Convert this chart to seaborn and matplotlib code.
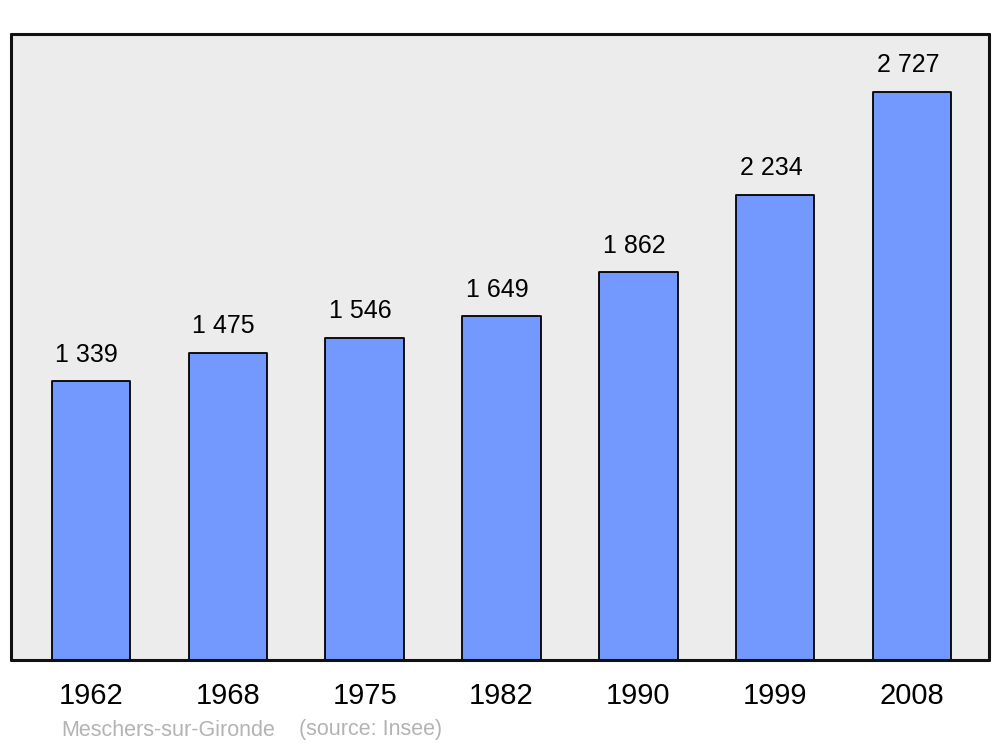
import seaborn as sb
import matplotlib.pyplot as plt
import pandas as pd

years = ["1962", "1968", "1975", "1982", "1990", "1999", "2008"]
population = [1339, 1475, 1546, 1649, 1862, 2234, 2727]
town = "Meschers-sur-Gironde"
source = "(source: Insee)"

df = pd.DataFrame({"year": years, "pop": population})

sb.set_style("white")
plt.rcParams['font.family'] = ['Liberation Sans', 'DejaVu Sans']
plt.rcParams['text.color'] = 'black'
plt.rcParams['xtick.color'] = 'black'

fig = plt.figure(figsize=(10, 7.47), dpi=100)
ax = fig.add_axes([0.011, 87 / 747, 0.978, 626 / 747])
ax.set_facecolor("#ececec")

sb.barplot(data=df, x="year", y="pop", color="#7399ff", saturation=1,
           width=0.575, edgecolor="black", linewidth=1.3, ax=ax)
for p in ax.patches:
    p.set_joinstyle("round")

for i, v in enumerate(population):
    ax.annotate(f"{v:,}".replace(",", " "), (i, v), xytext=(-3, 14),
                textcoords="offset points", ha="center", va="baseline",
                fontsize=18, color="black")

ax.set_xlim(-0.585, 6.563)
ax.set_ylim(0, 3005)
ax.set_yticks([])
ax.set_xlabel("")
ax.set_ylabel("")
ax.tick_params(axis="x", length=0, pad=16, labelsize=21, labelcolor="black")
for s in ax.spines.values():
    s.set_linewidth(2.2)
    s.set_color("#111111")
    s.set_capstyle("round")

fig.text(0.061, 1 - 730 / 747, town, color="#b3b3b3", fontsize=15.5, va="center")
fig.text(0.299, 1 - 730 / 747, source, color="#b3b3b3", fontsize=15.5, va="center")

plt.savefig("out.png", dpi=100)
plt.close()
